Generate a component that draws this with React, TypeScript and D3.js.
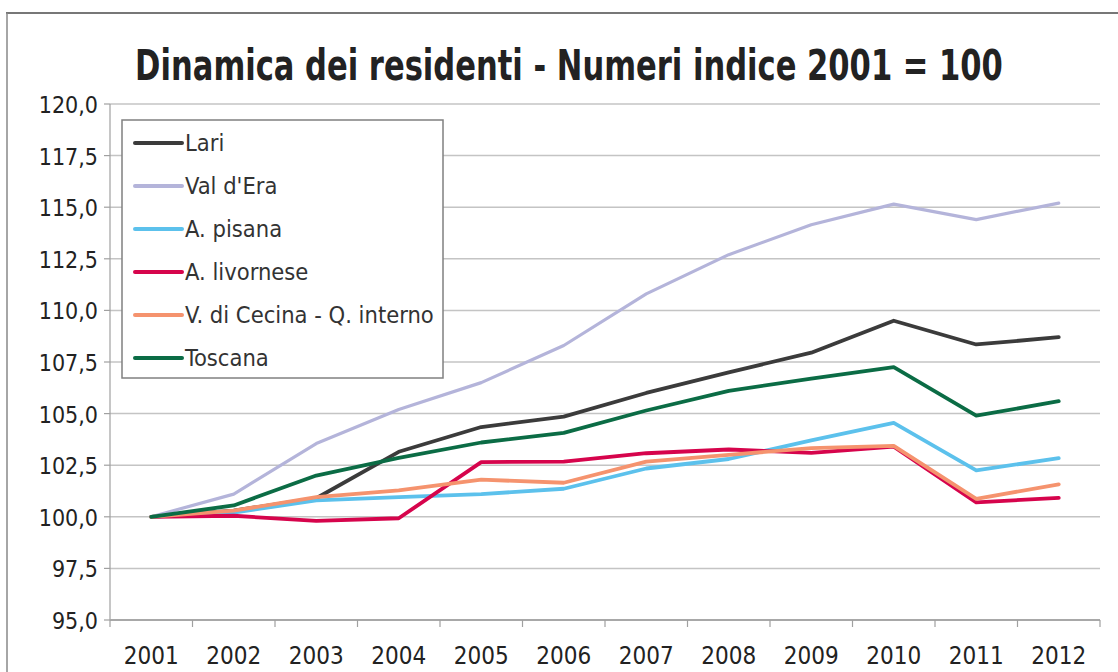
import React, { useLayoutEffect, useRef, useState } from "react";
import * as d3 from "d3";

const years = ["2001", "2002", "2003", "2004", "2005", "2006", "2007", "2008", "2009", "2010", "2011", "2012"];
const yTicks = [95, 97.5, 100, 102.5, 105, 107.5, 110, 112.5, 115, 117.5, 120];

const lari = [100, 100.3, 100.9, 103.15, 104.35, 104.85, 106.0, 107.0, 107.95, 109.5, 108.35, 108.7];
const valDEra = [100, 101.1, 103.55, 105.2, 106.5, 108.3, 110.8, 112.7, 114.15, 115.15, 114.4, 115.2];
const aPisana = [100, 100.2, 100.8, 100.95, 101.1, 101.36, 102.34, 102.8, 103.7, 104.55, 102.25, 102.84];
const aLivornese = [100, 100.05, 99.8, 99.93, 102.65, 102.67, 103.08, 103.26, 103.1, 103.4, 100.7, 100.92];
const vCecina = [100, 100.3, 100.95, 101.28, 101.8, 101.65, 102.67, 103.0, 103.33, 103.44, 100.87, 101.57];
const toscana = [100, 100.55, 102.0, 102.85, 103.6, 104.07, 105.15, 106.1, 106.7, 107.25, 104.9, 105.6];

const names = ["Lari", "Val d'Era", "A. pisana", "A. livornese", "V. di Cecina - Q. interno", "Toscana"];
const colors = ["#3b3b3b", "#b4b4da", "#5cc1ec", "#d6044c", "#f5936e", "#0b6c45"];
const widths = [3.8, 3.2, 3.8, 3.8, 3.8, 3.8];
const values = [lari, valDEra, aPisana, aLivornese, vCecina, toscana];

const font = "'Liberation Sans Narrow', 'DejaVu Sans Condensed', 'Liberation Sans', sans-serif";
const titleText = "Dinamica dei residenti - Numeri indice 2001 = 100";

export default function App() {
  const titleRef = useRef<SVGTextElement>(null);
  const [titleScale, setTitleScale] = useState(1);

  useLayoutEffect(() => {
    // squeeze the title to the width it has in the original
    if (titleRef.current) {
      const w = titleRef.current.getComputedTextLength();
      if (w > 0) setTitleScale(868 / w);
    }
  }, []);

  const x = d3.scaleBand().domain(years).range([110, 1100]).padding(0);
  const cx = (d: string) => (x(d) as number) + x.bandwidth() / 2;
  const y = d3.scaleLinear().domain([95, 120]).range([620, 104]);

  const line = d3
    .line<number>()
    .x((_, i) => cx(years[i]))
    .y((d) => y(d));

  const fmt = (v: number) => v.toFixed(1).replace(".", ",");

  return (
    <svg
      width={1118}
      height={672}
      style={{ position: "absolute", left: 0, top: 0, background: "#fff" }}
      fontFamily={font}
    >
      {/* outer frame */}
      <line x1={6} x2={1118} y1={13} y2={13} stroke="#777" strokeWidth={2} />
      <line x1={7} x2={7} y1={13} y2={672} stroke="#888" strokeWidth={1.5} />

      <g transform={`translate(569,80) scale(${titleScale},1)`}>
        <text ref={titleRef} x={0} y={0} textAnchor="middle" fontSize={43} fontWeight="bold" fill="#222">
          {titleText}
        </text>
      </g>

      {/* grid */}
      {yTicks.map((t) => (
        <g key={t}>
          {t > 95 && (
            <line x1={110} x2={1100} y1={y(t)} y2={y(t)} stroke="#c4c4c4" strokeWidth={1.5} />
          )}
          <line x1={104} x2={110} y1={y(t)} y2={y(t)} stroke="#a0a0a0" strokeWidth={1.2} />
          <text x={98} y={y(t) + 9} textAnchor="end" fontSize={23} fill="#222">
            {fmt(t)}
          </text>
        </g>
      ))}
      <line x1={110} x2={110} y1={y(120)} y2={y(95)} stroke="#a0a0a0" strokeWidth={1.2} />
      <line x1={110} x2={1100} y1={y(95)} y2={y(95)} stroke="#a8a8a8" strokeWidth={1.8} />
      {years.map((d) => (
        <g key={d}>
          <line x1={x(d)} x2={x(d)} y1={y(95)} y2={y(95) + 7} stroke="#a0a0a0" strokeWidth={1.2} />
          <text x={cx(d)} y={664} textAnchor="middle" fontSize={24} fill="#222">
            {d}
          </text>
        </g>
      ))}
      <line x1={1100} x2={1100} y1={y(95)} y2={y(95) + 7} stroke="#a0a0a0" strokeWidth={1.2} />

      {/* series */}
      {values.map((v, i) => (
        <path
          key={names[i]}
          d={line(v) || ""}
          fill="none"
          stroke={colors[i]}
          strokeWidth={widths[i]}
          strokeLinejoin="round"
          strokeLinecap="round"
        />
      ))}

      {/* legend */}
      <rect x={122} y={120} width={321} height={258} fill="#fff" stroke="#808080" strokeWidth={1.5} />
      {names.map((n, i) => {
        const ly = 143 + i * 43;
        return (
          <g key={n}>
            <line x1={135} x2={182} y1={ly} y2={ly} stroke={colors[i]} strokeWidth={4} strokeLinecap="round" />
            <text x={185} y={ly + 8} fontSize={23.5} fill="#333">
              {n}
            </text>
          </g>
        );
      })}
    </svg>
  );
}
